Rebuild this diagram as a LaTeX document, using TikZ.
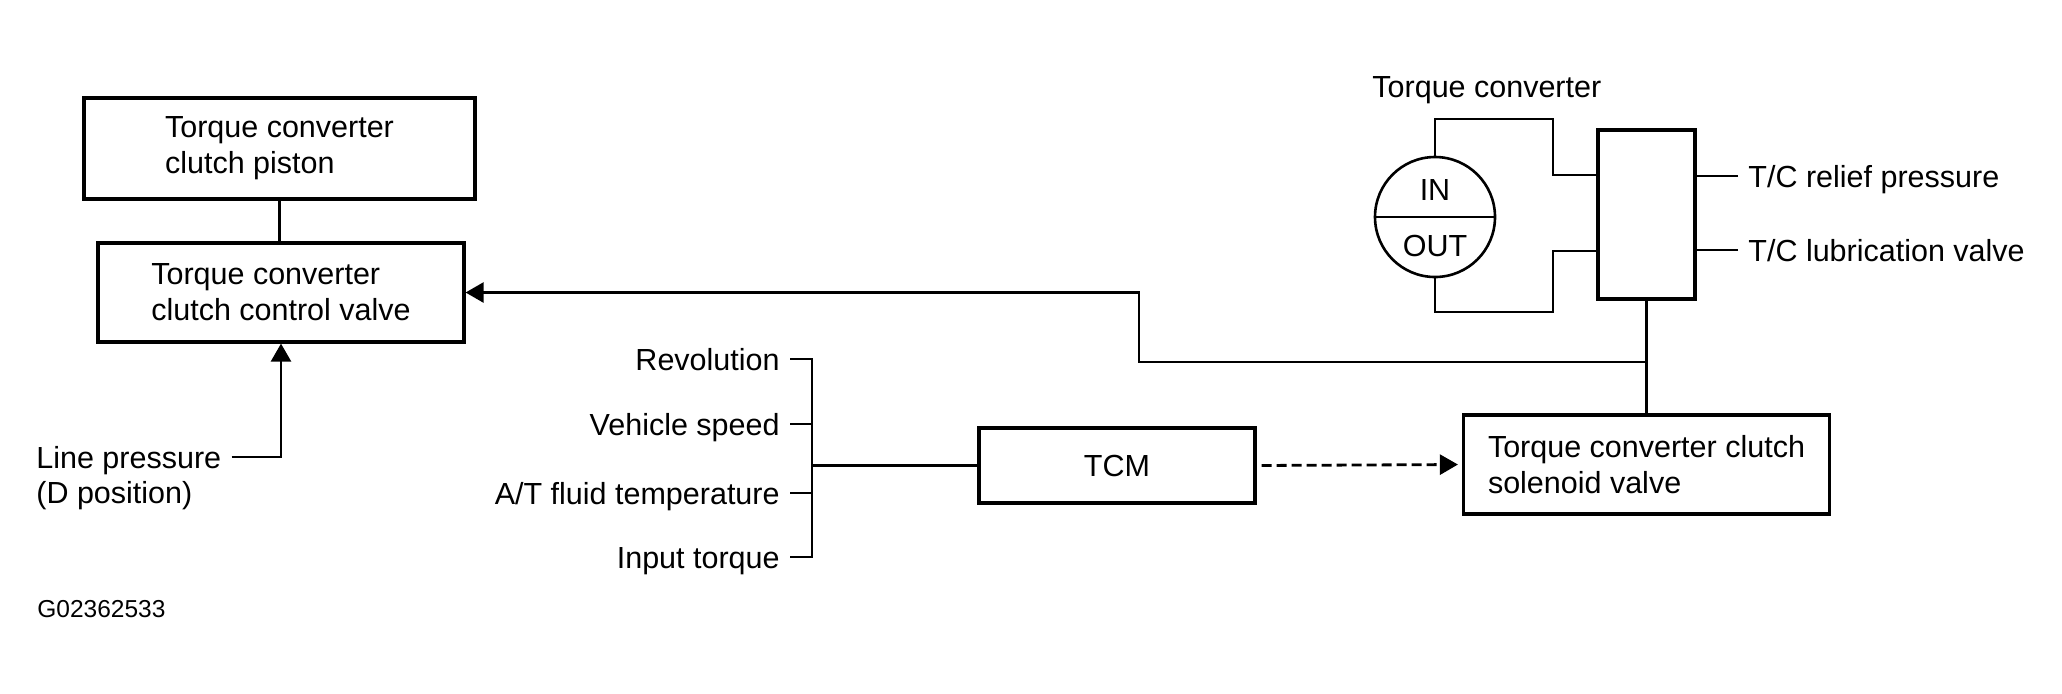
\documentclass[tikz,border=0pt]{standalone}
\usepackage{fontspec}
\setmainfont{Liberation Sans}
\usetikzlibrary{arrows.meta}
\begin{document}
\begin{tikzpicture}[x=0.5pt,y=-0.5pt,
  every node/.style={font=\fontsize{15.25pt}{18pt}\selectfont},
  box/.style={draw, line width=1.6pt, inner sep=0pt, align=left},
  wire/.style={line width=1.3pt},
  lbl/.style={inner xsep=5pt, inner ysep=0pt, text height=11pt, text depth=0pt},
  tip/.style={-{Triangle[length=9pt,width=10pt]}}]
\useasboundingbox (0,0) rectangle (2062,693);

% left boxes
\node[box, minimum width=195.5pt, minimum height=50.5pt] (piston) at (279.5,148.5) {Torque converter\\clutch piston};
\node[box, minimum width=183pt, minimum height=49.5pt] (ctrl) at (281,292.5) {Torque converter\\clutch control valve};
\draw[wire] (piston.south) -- (piston.south |- ctrl.north);

% line pressure
\node[lbl, anchor=base west] (lp) at (26,468) {Line pressure};
\node[lbl, anchor=base west] (dp) at (26,503) {(D position)};
\draw[wire, tip] (lp.east) -| (ctrl.south);

% inputs to TCM
\node[box, minimum width=138pt, minimum height=37.5pt] (tcm) at (1117,465.5) {TCM};
\node[lbl, anchor=east] (rev) at (790,359) {Revolution};
\node[lbl, anchor=east] (vs) at (790,424) {Vehicle speed};
\node[lbl, anchor=east] (atf) at (790,493) {A/T fluid temperature};
\node[lbl, anchor=east] (it) at (790,557) {Input torque};
\coordinate (bb) at (812,557);
\draw[wire] (rev.east) -| (bb) -- (it.east);
\draw[wire] (vs.east) -- (vs.east -| bb);
\draw[wire] (atf.east) -- (atf.east -| bb);
\draw[wire] (bb |- tcm.west) -- (tcm.west);

% solenoid
\node[box, minimum width=183pt, minimum height=49.5pt] (sol) at (1646.5,464.5) {Torque converter clutch\\solenoid valve};
\draw[line width=1.4pt, dash pattern=on 5pt off 2.5pt, tip, shorten <=2.5pt, shorten >=2pt] (tcm.east) -- (sol.west);

% torque converter and valve
\node[anchor=base west, inner sep=0pt] (tclbl) at (1372,97) {Torque converter};
\node[draw, circle, wire, minimum size=60pt, inner sep=0pt] (tc) at (1435,217) {};
\draw[wire] (tc.west) -- (tc.east);
\node[lbl] (in) at (1435,189) {IN};
\node[lbl] (out) at (1435,245.5) {OUT};
\node[box, minimum width=48.5pt, minimum height=84.5pt] (prv) at (1646.5,214.5) {};
\coordinate (a1) at (1553,119);
\coordinate (a2) at (1553,175);
\draw[wire] (tc.north) |- (a1) -- (a2) -- (a2 -| prv.west);
\coordinate (b1) at (1553,312);
\coordinate (b2) at (1553,251);
\draw[wire] (tc.south) |- (b1) -- (b2) -- (b2 -| prv.west);

\node[lbl, anchor=west] (relief) at (1738,176) {T/C relief pressure};
\node[lbl, anchor=west] (lube) at (1738,250) {T/C lubrication valve};
\draw[wire] (relief.west) -- (relief.west -| prv.east);
\draw[wire] (lube.west) -- (lube.west -| prv.east);

% feedback to control valve
\draw[wire] (prv.south) -- (sol.north);
\coordinate (jc) at (1139,362);
\draw[wire, tip] (prv.south |- jc) -- (jc) |- (ctrl.east);

\node[anchor=base west, inner sep=0pt, font=\fontsize{12.25pt}{14pt}\selectfont] (gid) at (37,617) {G02362533};
\end{tikzpicture}
\end{document}
